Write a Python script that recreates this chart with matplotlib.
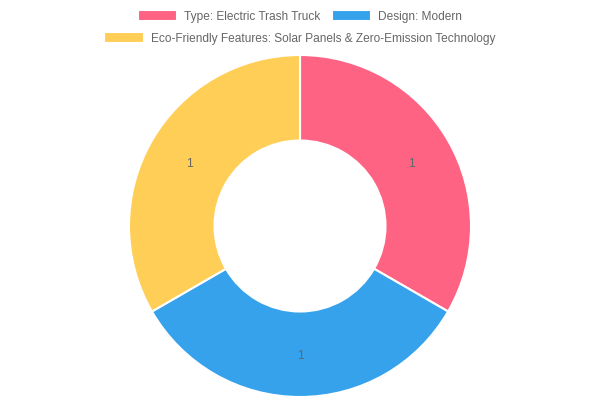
import matplotlib.pyplot as plt
import numpy as np

labels = ['Type: Electric Trash Truck', 'Design: Modern',
          'Eco-Friendly Features: Solar Panels & Zero-Emission Technology']
values = [1, 1, 1]
colors = ['#FF6384', '#36A2EB', '#FFCE56']

plt.rcParams['font.family'] = ['Liberation Sans', 'DejaVu Sans']

fig = plt.figure(figsize=(6, 4), dpi=100)
# doughnut centre at (300, 226) px, outer radius ~171 px
ax = fig.add_axes([(300 - 171) / 600, (400 - 226 - 171) / 400, 342 / 600, 342 / 400])
wedges, _ = ax.pie(values, colors=colors, startangle=90, counterclock=False,
                   radius=1, wedgeprops=dict(width=0.5, edgecolor='white', linewidth=1.5))
ax.set_xlim(-1, 1)
ax.set_ylim(-1, 1)
ax.set_aspect('equal')
ax.axis('off')

# value labels in the middle of each ring segment
total = sum(values)
start = 90
for v in values:
    mid = np.deg2rad(start - 360 * v / total / 2)
    ax.text(0.75 * np.cos(mid), 0.75 * np.sin(mid) - 0.012, str(v), ha='center', va='center',
            fontsize=8.6, color='#666666')
    start -= 360 * v / total

leg_kw = dict(frameon=False, fontsize=8.6, handlelength=3.3, handleheight=1.0,
              handletextpad=0.6, columnspacing=0.9, borderpad=0, borderaxespad=0,
              loc='center', labelcolor='#666666')
fig.legend(wedges[:2], labels[:2], ncol=2, bbox_to_anchor=(0.5, 1 - 16.5 / 400), **leg_kw)
fig.legend(wedges[2:], labels[2:], ncol=1, bbox_to_anchor=(0.5, 1 - 38.5 / 400), **leg_kw)

fig.savefig('out.png', dpi=100)
